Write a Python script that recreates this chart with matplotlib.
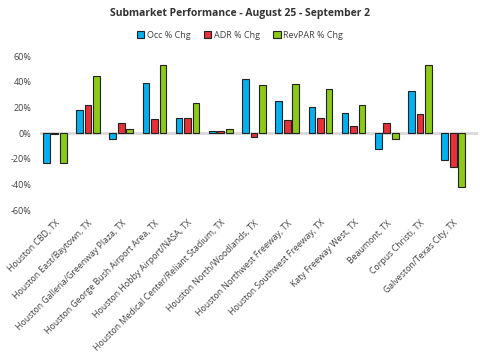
import numpy as np
import matplotlib.pyplot as plt

# Submarket data (% change)
submarkets = [
    "Houston CBD, TX", "Houston East/Baytown, TX", "Houston Galleria/Greenway Plaza, TX",
    "Houston George Bush Airport Area, TX", "Houston Hobby Airport/NASA, TX",
    "Houston Medical Center/Reliant Stadium, TX", "Houston North/Woodlands, TX",
    "Houston Northwest Freeway, TX", "Houston Southwest Freeway, TX",
    "Katy Freeway West, TX", "Beaumont, TX", "Corpus Christi, TX", "Galveston/Texas City, TX",
]
occ = [-23.4, 18.4, -4.2, 38.9, 11.4, 2.0, 42.0, 24.7, 20.0, 15.3, -12.0, 32.5, -21.3]
adr = [-0.3, 21.6, 7.9, 10.8, 11.4, 1.5, -2.9, 10.6, 11.7, 5.2, 8.0, 15.0, -26.2]
revpar = [-23.4, 44.7, 3.4, 53.4, 23.6, 3.4, 37.7, 38.4, 34.5, 21.6, -4.9, 52.7, -41.8]

series = [("Occ % Chg", occ, "#00B0F0"),
          ("ADR % Chg", adr, "#E8303A"),
          ("RevPAR % Chg", revpar, "#8DC919")]

plt.rcParams['font.family'] = ['Open Sans', 'DejaVu Sans']

fig = plt.figure(figsize=(4.8, 3.55), dpi=100)
ax = fig.add_axes([0.083, 0.408, 0.913, 0.434])

x = np.arange(len(submarkets))
w = 0.2
offsets = [-0.255, 0, 0.255]
for (name, vals, col), off in zip(series, offsets):
    # soft shadow on the right side of each bar
    ax.bar(x + off + 0.025, vals, w, color="#c8c8c8", zorder=2, linewidth=0)
    ax.bar(x + off, vals, w, color=col, edgecolor="#222222", linewidth=0.8,
           label=name, zorder=3)

ax.axhline(0, color="#d9d9d9", linewidth=2, zorder=1)
ax.set_ylim(-60, 60)
ax.set_xlim(-0.45, 12.75)
ax.set_yticks(range(-60, 61, 20))
ax.set_yticklabels([f"{v}%" for v in range(-60, 61, 20)], fontsize=6.5, color="#404040")
ax.set_xticks(x)
ax.set_xticklabels(submarkets, rotation=45, ha="right", rotation_mode="anchor",
                   fontsize=6.3, color="#404040")
ax.tick_params(length=0, pad=6)
ax.tick_params(axis="x", pad=6)
for s in ax.spines.values():
    s.set_visible(False)

fig.text(0.5, 0.962, "Submarket Performance - August 25 - September 2", ha="center",
         va="center", fontsize=7.5, fontweight="bold", color="#333333")
fig.legend(loc="center", bbox_to_anchor=(0.5, 0.9), ncol=3, frameon=False,
           fontsize=6.5, handlelength=0.8, handleheight=0.8, handletextpad=0.3,
           columnspacing=1.5, labelcolor="#404040")

fig.savefig("out.png", dpi=100)
